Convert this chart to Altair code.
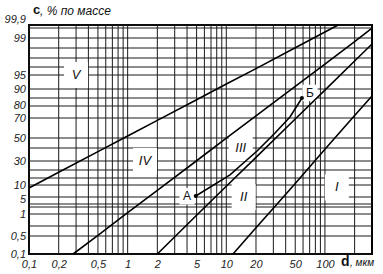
import altair as alt
import pandas as pd

# ---------------- data ----------------
# axis tick labels
x_ticks = [0.1, 0.2, 0.5, 1, 2, 5, 10, 20, 50, 100]
y_ticks = [0.1, 0.5, 1, 5, 10, 30, 50, 70, 80, 90, 95, 99, 99.9]
y_tick_labels = ["0,1", "0,5", "1", "5", "10", "30", "50", "70", "80", "90",
                 "95", "99", "99,9"]

# grid values
x_grid = [0.1, 0.2, 0.3, 0.4, 0.5, 0.6, 0.7, 0.8, 0.9,
          1, 2, 3, 4, 5, 6, 7, 8, 9,
          10, 20, 30, 40, 50, 60, 70, 80, 90, 100, 200]
y_grid = [0.1, 0.5, 0.8, 1, 2, 3, 5, 10, 15, 20, 30, 40, 50, 70, 80, 85,
          90, 95, 96, 97, 98, 99, 99.8, 99.9]

# boundary lines (d in µm, c in % by mass)
v_d = [0.1, 0.2, 0.5, 1, 2, 5, 10, 20, 50, 100, 136]
v_c = [8.75, 18.6, 37.2, 52, 67.6, 83.9, 91.8, 95.8, 98.03, 99.48, 99.9]

iv_d = [0.28, 0.5, 1, 2, 5, 10, 20, 50, 100, 200, 300]
iv_c = [0.1, 0.52, 1.19, 7.75, 30.2, 49.9, 71.7, 90.9, 96.33, 98.64, 99.79]

iii_d = [2, 5, 10, 20, 50, 100, 200, 300]
iii_c = [0.1, 0.98, 9.46, 32.8, 69, 89.4, 96.67, 98.4]

ii_d = [11.7, 20, 30, 50, 100, 200, 300]
ii_c = [0.1, 0.75, 1.83, 11.1, 39, 72.1, 86.1]

ab_d = [4.9, 10.9, 20.5, 31.2, 44.2, 58.5]
ab_c = [5.4, 16.9, 37.7, 55, 70.8, 85]

# zone / point labels
zone_text = ["V", "IV", "III", "II", "I"]
zone_d = [0.3, 1.5, 14, 15, 132]
zone_c = [95, 30, 40, 5, 9]

pt_text = ["А", "Б"]
pt_d = [4.0, 70.5]
pt_c = [5.3, 87.8]

# ---------------- layout / styling ----------------
W, H = 343, 229
# pixel range of the hand-drawn (distorted) probability axis, matching y_grid
y_range = [229, 211, 201, 189, 182, 179, 172, 160, 153, 145, 136, 123, 113,
           93, 81, 73, 64, 50, 42, 33, 23, 13, 3, 0]
# vertical nudge of individual y labels (as in the drawing)
y_label_dy = {"99,9": -5, "0,1": 1, "5": 3, "80": 0}
y_label_dy_default = 1

FONT = "Liberation Sans"
xs = alt.Scale(type="log", domain=[0.1, 300], nice=False)
ys = alt.Scale(type="linear", domain=y_grid, range=y_range, nice=False, zero=False)

lab = "replace(toString(datum.value), '.', ',')"
axX = alt.Axis(values=x_ticks, labelExpr=lab, ticks=False, domain=False, grid=False,
               labelFont=FONT, labelFontStyle="italic", labelFontSize=11,
               labelColor="#222", labelPadding=4, labelFlush=False,
               labelOverlap=False, title=None)
axY = alt.Axis(values=y_ticks, labels=False, ticks=False, domain=False, grid=False,
               title=None)

X = alt.X("d:Q", scale=xs, axis=axX)
Y = alt.Y("c:Q", scale=ys, axis=axY)

lines = pd.concat([
    pd.DataFrame({"d": v_d, "c": v_c, "id": "V"}),
    pd.DataFrame({"d": iv_d, "c": iv_c, "id": "IV"}),
    pd.DataFrame({"d": iii_d, "c": iii_c, "id": "III"}),
    pd.DataFrame({"d": ii_d, "c": ii_c, "id": "II"}),
    pd.DataFrame({"d": ab_d, "c": ab_c, "id": "AB"}),
])
zones = pd.DataFrame({"t": zone_text, "d": zone_d, "c": zone_c})
pts = pd.DataFrame({"t": pt_text, "d": pt_d, "c": pt_c})
ends = pd.DataFrame({"d": [ab_d[0], ab_d[-1]], "c": [ab_c[0], ab_c[-1]]})

vgrid = alt.Chart(pd.DataFrame({"d": x_grid})).mark_rule(
    color="#1a1a1a", strokeWidth=1
).encode(x=X)

hgrid = alt.Chart(pd.DataFrame({"c": y_grid})).mark_rule(
    color="#1a1a1a", strokeWidth=1
).encode(y=Y)

box_path = "M-1.2,-1.3H1.2V1.3H-1.2Z"
zone_box = alt.Chart(zones).mark_point(
    shape=box_path, filled=True, fill="white", opacity=1, strokeWidth=0
).encode(x=X, y=Y, size=alt.value(400))
pt_box = alt.Chart(pts).mark_point(
    shape=box_path, filled=True, fill="white", opacity=1, strokeWidth=0
).encode(x=X, y=Y, size=alt.value(160))

curves = alt.Chart(lines).mark_line(color="black", strokeWidth=1.6).encode(
    x=X, y=Y, detail="id:N", order="d:Q"
)

dots = alt.Chart(ends).mark_point(filled=True, color="black", size=16, opacity=1).encode(
    x=X, y=Y
)

zone_txt = alt.Chart(zones).mark_text(
    font=FONT, fontStyle="italic", fontSize=13, color="#111"
).encode(x=X, y=Y, text="t:N")
pt_txt = alt.Chart(pts).mark_text(
    font=FONT, fontSize=12, color="#111"
).encode(x=X, y=Y, text="t:N")

# y-axis tick labels (placed through the y scale), grouped by nudge
ylab_style = dict(font=FONT, fontStyle="italic", fontSize=11, color="#222",
                  align="right", baseline="middle")
ylab_df = pd.DataFrame({"c": y_ticks, "t": y_tick_labels})
ylab_df["dy"] = [y_label_dy.get(t, y_label_dy_default) for t in y_tick_labels]
ylab_layers = []
for dy_val, grp in ylab_df.groupby("dy"):
    ylab_layers.append(
        alt.Chart(grp[["c", "t"]]).mark_text(dy=int(dy_val), **ylab_style)
        .encode(x=alt.value(-3), y=Y, text="t:N")
    )

c_t1 = alt.Chart(pd.DataFrame({"t": ["c"]})).mark_text(
    font=FONT, fontWeight="bold", fontSize=13, align="left", color="#111"
).encode(x=alt.value(4), y=alt.value(-15), text="t:N")
c_t2 = alt.Chart(pd.DataFrame({"t": [", % по массе"]})).mark_text(
    font=FONT, fontStyle="italic", fontSize=12, align="left", color="#111"
).encode(x=alt.value(11), y=alt.value(-14), text="t:N")
d_t1 = alt.Chart(pd.DataFrame({"t": ["d"]})).mark_text(
    font=FONT, fontWeight="bold", fontSize=14, align="left", color="#111"
).encode(x=alt.value(312), y=alt.value(H + 8), text="t:N")
d_t2 = alt.Chart(pd.DataFrame({"t": [", мкм"]})).mark_text(
    font=FONT, fontStyle="italic", fontSize=10, align="left", color="#111"
).encode(x=alt.value(321), y=alt.value(H + 9), text="t:N")

chart = alt.layer(
    vgrid, hgrid, zone_box, pt_box, curves, dots, zone_txt, pt_txt,
    *ylab_layers,
    c_t1, c_t2, d_t1, d_t2
).properties(
    width=W, height=H,
    padding={"left": 29, "top": 25, "right": 11, "bottom": 20},
    autosize=alt.AutoSizeParams(type="none"),
    background="white",
).configure_view(stroke="black", strokeWidth=2)

chart.save("out.html", embed_options={"renderer": "svg", "actions": False})
